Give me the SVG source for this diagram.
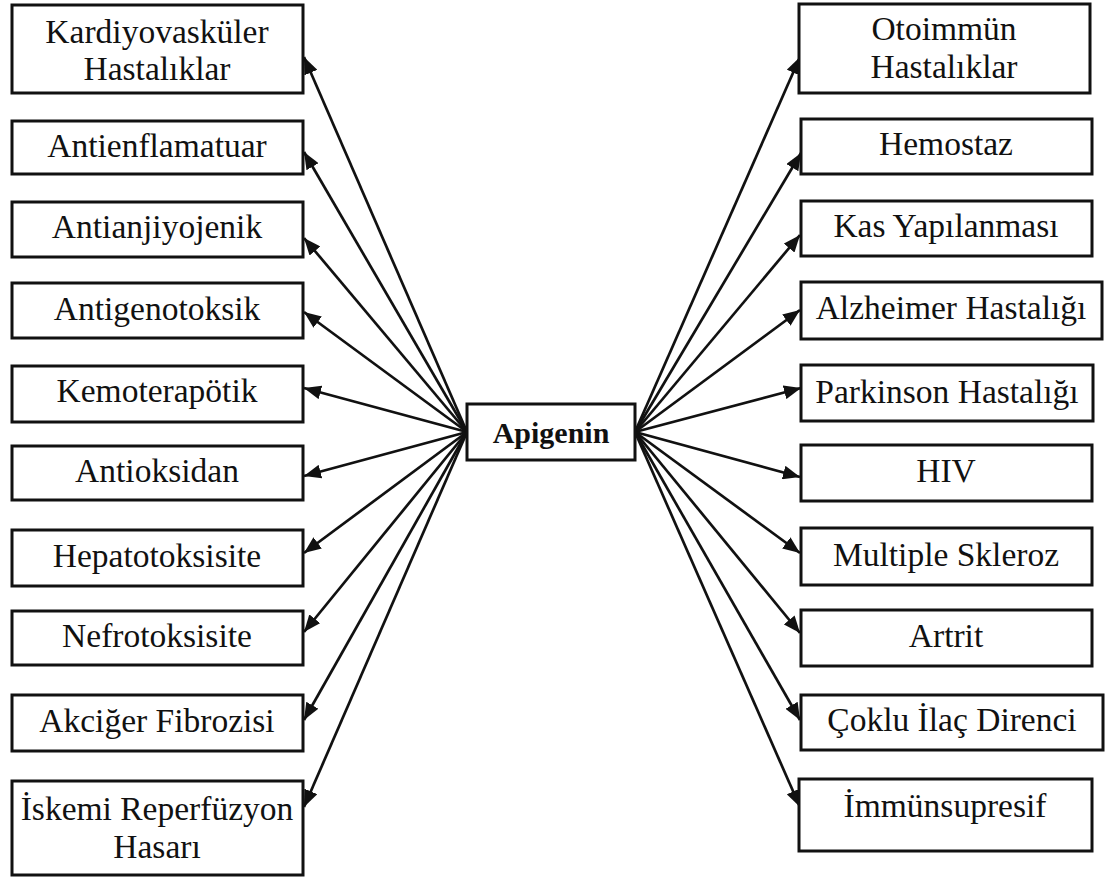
<svg xmlns="http://www.w3.org/2000/svg" width="1106" height="877" viewBox="0 0 1106 877">
<style>
.box{fill:#fff;stroke:#111;stroke-width:3}
.t{font-family:"Liberation Serif","Times New Roman",serif;font-size:33.5px;fill:#111;text-anchor:middle}
.tb{font-family:"Liberation Serif","Times New Roman",serif;font-size:30px;font-weight:bold;fill:#111;text-anchor:middle}
.c line{stroke:#111;stroke-width:2.7;marker-end:url(#ah)}
</style>
<defs>
<marker id="ah" markerUnits="userSpaceOnUse" markerWidth="17" markerHeight="14" refX="17" refY="7" orient="auto">
<path d="M0,0 L17,7 L0,14 z" fill="#111"/>
</marker>
</defs>
<rect width="1106" height="877" fill="#fff"/>
<g class="c" id="connectors">
<line x1="467" y1="432" x2="304" y2="57"/>
<line x1="467" y1="432" x2="304" y2="152"/>
<line x1="467" y1="432" x2="304" y2="238"/>
<line x1="467" y1="432" x2="304" y2="312"/>
<line x1="467" y1="432" x2="304" y2="388"/>
<line x1="467" y1="432" x2="304" y2="476"/>
<line x1="467" y1="432" x2="304" y2="553"/>
<line x1="467" y1="432" x2="304" y2="632"/>
<line x1="467" y1="432" x2="304" y2="720"/>
<line x1="467" y1="432" x2="304" y2="807"/>
<line x1="635" y1="432" x2="800" y2="57"/>
<line x1="635" y1="432" x2="801" y2="153"/>
<line x1="635" y1="432" x2="800" y2="235"/>
<line x1="635" y1="432" x2="800" y2="310"/>
<line x1="635" y1="432" x2="801" y2="388"/>
<line x1="635" y1="432" x2="800" y2="477"/>
<line x1="635" y1="432" x2="800" y2="553"/>
<line x1="635" y1="432" x2="800" y2="633"/>
<line x1="635" y1="432" x2="800" y2="720"/>
<line x1="635" y1="432" x2="800" y2="807"/>
</g>
<g id="apigenin"><rect class="box" x="467" y="404" width="168" height="56"/><text class="tb" x="551" y="443">Apigenin</text></g>
<g id="l1"><rect class="box" x="12" y="5" width="291" height="88"/><text class="t" x="157" y="43">Kardiyovasküler</text><text class="t" x="157" y="80">Hastalıklar</text></g>
<g id="l2"><rect class="box" x="12" y="121" width="291" height="53"/><text class="t" x="157" y="157">Antienflamatuar</text></g>
<g id="l3"><rect class="box" x="12" y="202" width="291" height="55"/><text class="t" x="157" y="238">Antianjiyojenik</text></g>
<g id="l4"><rect class="box" x="12" y="283" width="291" height="55"/><text class="t" x="157" y="320">Antigenotoksik</text></g>
<g id="l5"><rect class="box" x="12" y="366" width="291" height="56"/><text class="t" x="157" y="402">Kemoterapötik</text></g>
<g id="l6"><rect class="box" x="12" y="446" width="291" height="54"/><text class="t" x="157" y="482">Antioksidan</text></g>
<g id="l7"><rect class="box" x="12" y="530" width="291" height="56"/><text class="t" x="157" y="567">Hepatotoksisite</text></g>
<g id="l8"><rect class="box" x="12" y="611" width="291" height="54"/><text class="t" x="157" y="647">Nefrotoksisite</text></g>
<g id="l9"><rect class="box" x="12" y="695" width="291" height="56"/><text class="t" x="157" y="732">Akciğer Fibrozisi</text></g>
<g id="l10"><rect class="box" x="12" y="781" width="291" height="94"/><text class="t" x="157" y="820">İskemi Reperfüzyon</text><text class="t" x="157" y="858">Hasarı</text></g>
<g id="r1"><rect class="box" x="799" y="4" width="291" height="89"/><text class="t" x="944" y="40">Otoimmün</text><text class="t" x="944" y="78">Hastalıklar</text></g>
<g id="r2"><rect class="box" x="801" y="119" width="291" height="55"/><text class="t" x="946" y="155">Hemostaz</text></g>
<g id="r3"><rect class="box" x="801" y="201" width="291" height="55"/><text class="t" x="946" y="237">Kas Yapılanması</text></g>
<g id="r4"><rect class="box" x="801" y="282" width="301" height="57"/><text class="t" x="951" y="319">Alzheimer Hastalığı</text></g>
<g id="r5"><rect class="box" x="801" y="365" width="292" height="56"/><text class="t" x="947" y="403">Parkinson Hastalığı</text></g>
<g id="r6"><rect class="box" x="801" y="445" width="291" height="56"/><text class="t" x="946" y="482">HIV</text></g>
<g id="r7"><rect class="box" x="801" y="528" width="291" height="57"/><text class="t" x="946" y="566">Multiple Skleroz</text></g>
<g id="r8"><rect class="box" x="801" y="610" width="291" height="56"/><text class="t" x="946" y="647">Artrit</text></g>
<g id="r9"><rect class="box" x="801" y="695" width="302" height="55"/><text class="t" x="952" y="731">Çoklu İlaç Direnci</text></g>
<g id="r10"><rect class="box" x="799" y="779" width="293" height="72"/><text class="t" x="945" y="817">İmmünsupresif</text></g>
</svg>
